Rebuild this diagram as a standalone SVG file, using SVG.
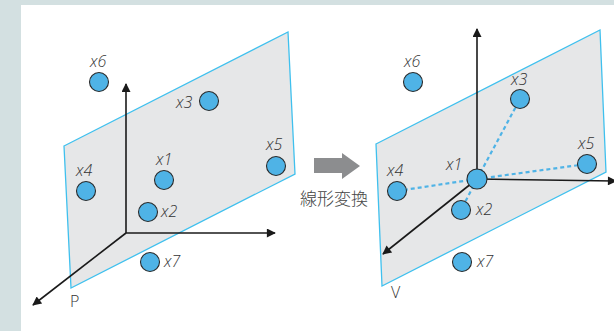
<svg xmlns="http://www.w3.org/2000/svg" width="614" height="331" viewBox="0 0 614 331">
<defs>
<style>
.plane{fill:#e6e7e8;stroke:#3fc0ee;stroke-width:1.3}
.axis{stroke:#1a1a1a;stroke-width:1.6;fill:none}
.pt{fill:#4fb3e6;stroke:#2b2b2b;stroke-width:1.1}
.lbl{font-family:"Open Sans","Liberation Sans",sans-serif;font-style:italic;font-weight:300;font-size:16px;fill:#333}
.name{font-family:"Open Sans","Liberation Sans",sans-serif;font-weight:300;font-size:16px;fill:#333}
.dash{stroke:#4fb3e6;stroke-width:2.2;stroke-dasharray:4 3;fill:none}
</style>
<marker id="ah2" viewBox="0 0 10 10" refX="9" refY="5" markerWidth="17" markerHeight="9" markerUnits="userSpaceOnUse" orient="auto"><path d="M0,0 L10,5 L0,10 Z" fill="#1a1a1a"/></marker>
</defs>
<rect x="0" y="0" width="614" height="331" fill="#d3e0e1"/>
<rect x="21" y="5" width="593" height="326" fill="#ffffff"/>

<g id="plane-P">
<polygon class="plane" points="64,146 288,32 295,174 71,288"/>
<text class="name" x="70" y="307">P</text>
</g>
<g id="axes-P">
<line class="axis" x1="126" y1="233" x2="126" y2="84" marker-end="url(#ah2)"/>
<line class="axis" x1="126" y1="233" x2="275" y2="233" marker-end="url(#ah2)"/>
<line class="axis" x1="126" y1="233" x2="33" y2="305" marker-end="url(#ah2)"/>
</g>
<g id="points-P">
<g id="p-x6"><circle class="pt" cx="99" cy="82" r="9.5"/><text class="lbl" x="90" y="67">x6</text></g>
<g id="p-x3"><circle class="pt" cx="209" cy="101" r="9.5"/><text class="lbl" x="176" y="108">x3</text></g>
<g id="p-x5"><circle class="pt" cx="276" cy="166" r="9.5"/><text class="lbl" x="266" y="150">x5</text></g>
<g id="p-x4"><circle class="pt" cx="86" cy="191" r="9.5"/><text class="lbl" x="76" y="176">x4</text></g>
<g id="p-x1"><circle class="pt" cx="164" cy="180" r="9.5"/><text class="lbl" x="156" y="165">x1</text></g>
<g id="p-x2"><circle class="pt" cx="148" cy="212" r="9.5"/><text class="lbl" x="161" y="217">x2</text></g>
<g id="p-x7"><circle class="pt" cx="150" cy="262" r="9.5"/><text class="lbl" x="164" y="267">x7</text></g>
</g>

<g id="transform-arrow">
<path d="M314,158 L342,158 L342,153 L360,166 L342,179 L342,173 L314,173 Z" fill="#8c8d8f"/>
<text x="300" y="205" font-family="'Noto Sans CJK JP','Noto Sans CJK SC',sans-serif" font-weight="300" font-size="17" fill="#444">線形変換</text>
</g>

<g id="plane-V">
<polygon class="plane" points="376,144 600,30 606,172 382,286"/>
<text class="name" x="391" y="298">V</text>
</g>
<g id="connectors">
<line class="dash" x1="477" y1="179" x2="520" y2="99"/>
<line class="dash" x1="477" y1="179" x2="397" y2="191"/>
<line class="dash" x1="477" y1="179" x2="587" y2="164"/>
<line class="dash" x1="477" y1="179" x2="461" y2="210"/>
</g>
<g id="axes-V">
<line class="axis" x1="477" y1="179" x2="477" y2="29" marker-end="url(#ah2)"/>
<line class="axis" x1="477" y1="179" x2="616" y2="181" marker-end="url(#ah2)"/>
<line class="axis" x1="477" y1="179" x2="383" y2="254" marker-end="url(#ah2)"/>
</g>
<g id="points-V">
<g id="v-x6"><circle class="pt" cx="413" cy="82" r="9.5"/><text class="lbl" x="404" y="67">x6</text></g>
<g id="v-x3"><circle class="pt" cx="520" cy="99" r="9.5"/><text class="lbl" x="511" y="85">x3</text></g>
<g id="v-x5"><circle class="pt" cx="587" cy="164" r="9.5"/><text class="lbl" x="578" y="149">x5</text></g>
<g id="v-x4"><circle class="pt" cx="397" cy="191" r="9.5"/><text class="lbl" x="387" y="176">x4</text></g>
<g id="v-x1"><circle class="pt" cx="477" cy="179" r="10"/><text class="lbl" x="446" y="170">x1</text></g>
<g id="v-x2"><circle class="pt" cx="461" cy="210" r="9.5"/><text class="lbl" x="476" y="215">x2</text></g>
<g id="v-x7"><circle class="pt" cx="462" cy="262" r="9.5"/><text class="lbl" x="477" y="267">x7</text></g>
</g>
</svg>
